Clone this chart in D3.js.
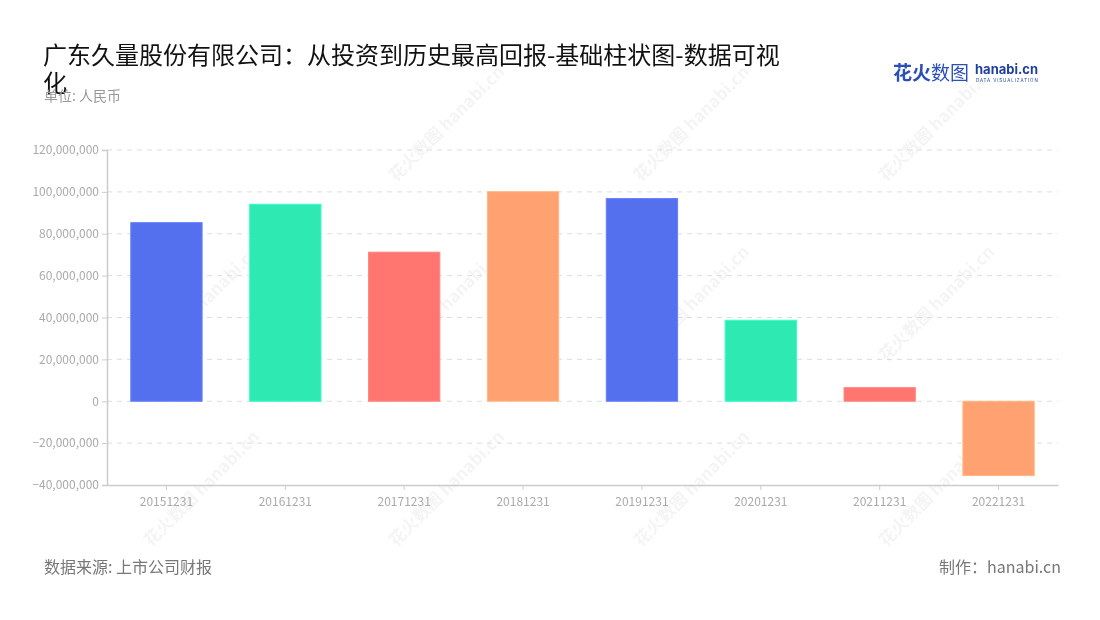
<!DOCTYPE html>
<html><head><meta charset="utf-8">
<script src="https://cdn.jsdelivr.net/npm/d3@7"></script>
<style>body{margin:0;background:#fff;font-family:"Noto Sans CJK SC","Noto Sans",sans-serif}</style>
</head><body>
<svg id="c" width="1100" height="620"></svg>
<script>
const categories = ["20151231","20161231","20171231","20181231","20191231","20201231","20211231","20221231"];
const values = [85300000, 94100000, 71200000, 100100000, 96800000, 38700000, 6500000, -35500000];
const colors = ["#5570ee","#2ee9b2","#ff7670","#ffa170"];
const yTicks = [-40000000,-20000000,0,20000000,40000000,60000000,80000000,100000000,120000000];

const svg = d3.select("#c");
const font = '"Noto Sans CJK SC","Noto Sans",sans-serif';
const m = {l:107, r:1058, t:150, b:485};

// watermarks
const wm = svg.append("g").attr("opacity",0.045).attr("fill","#000").attr("font-family",font).attr("font-weight","bold");
const wmPos = [[420,150],[665,150],[910,150],[175,330],[420,330],[665,330],[910,330],[175,515],[420,515],[665,515],[910,515]];
wmPos.forEach(([x,y])=>{
  const g = wm.append("g").attr("transform",`translate(${x},${y}) rotate(-45)`);
  g.append("text").attr("font-size",17).attr("x",-40).attr("y",6).text("花火数图 hanabi.cn");
});

const x = d3.scaleBand().domain(categories).range([m.l,m.r]).paddingInner(0.4).paddingOuter(0.2);
const y = d3.scaleLinear().domain([-40000000,120000000]).range([m.b,m.t]);

// grid
svg.append("g").selectAll("line").data(yTicks.filter(d=>d!==-40000000)).join("line")
  .attr("x1",m.l).attr("x2",m.r).attr("y1",d=>y(d)).attr("y2",d=>y(d))
  .attr("stroke","#dddddd").attr("stroke-dasharray","5,5");

// bars
svg.append("g").selectAll("rect").data(values).join("rect")
  .attr("x",(d,i)=>x(categories[i]))
  .attr("width",x.bandwidth())
  .attr("y",d=>y(Math.max(0,d)))
  .attr("height",d=>Math.abs(y(d)-y(0)))
  .attr("fill",(d,i)=>colors[i%4])
  .attr("stroke",(d,i)=>d3.color(colors[i%4]).brighter(0.4))
  .attr("stroke-width",1);

// y axis
const ya = svg.append("g").attr("transform",`translate(${m.l},0)`)
  .call(d3.axisLeft(y).tickValues(yTicks).tickFormat(d3.format(",")).tickSize(5).tickPadding(3));
ya.select(".domain").attr("stroke","#cccccc").attr("stroke-width",1.5);
ya.selectAll(".tick line").attr("stroke","#cccccc");
ya.selectAll("text").attr("fill","#aaaaaa").attr("font-size",12).attr("font-family",font);

// x axis
const xa = svg.append("g").attr("transform",`translate(0,${m.b})`)
  .call(d3.axisBottom(x).tickSize(5).tickPadding(7).tickSizeOuter(0));
xa.select(".domain").attr("stroke","#cccccc").attr("stroke-width",1.5);
xa.selectAll(".tick line").attr("stroke","#cccccc");
xa.selectAll("text").attr("fill","#aaaaaa").attr("font-size",12).attr("font-family",font);

// title
svg.append("text").attr("x",43).attr("y",64).attr("font-size",24).attr("fill","#111").attr("font-family",font)
  .text("广东久量股份有限公司：从投资到历史最高回报-基础柱状图-数据可视");
svg.append("text").attr("x",43).attr("y",92).attr("font-size",24).attr("fill","#111").attr("font-family",font).text("化");
svg.append("text").attr("x",44).attr("y",101).attr("font-size",14).attr("fill","#999").attr("font-family",font).text("单位: 人民币");

// logo
const lg = svg.append("g");
lg.append("text").attr("x",893).attr("y",80).attr("font-size",19).attr("font-weight","bold").attr("fill","#2b4fb8").attr("font-family",font).text("花火");
lg.append("text").attr("x",931).attr("y",80).attr("font-size",19).attr("fill","#2b4fb8").attr("font-family",font).text("数图");
lg.append("text").attr("x",975).attr("y",74).attr("font-size",13).attr("font-weight","bold").attr("fill","#1f3f9e").attr("font-family","Inter,sans-serif").text("hanabi.cn");
lg.append("text").attr("x",976).attr("y",81.5).attr("font-size",4.5).attr("fill","#1f3f9e").attr("font-family","Inter,sans-serif").attr("letter-spacing",0.9).text("DATA VISUALIZATION");

// footer
svg.append("text").attr("x",44).attr("y",573).attr("font-size",16).attr("fill","#777").attr("font-family",font).text("数据来源: 上市公司财报");
svg.append("text").attr("x",1061).attr("y",573).attr("text-anchor","end").attr("font-size",16).attr("fill","#777").attr("font-family",font).text("制作：hanabi.cn");
</script>
</body></html>
